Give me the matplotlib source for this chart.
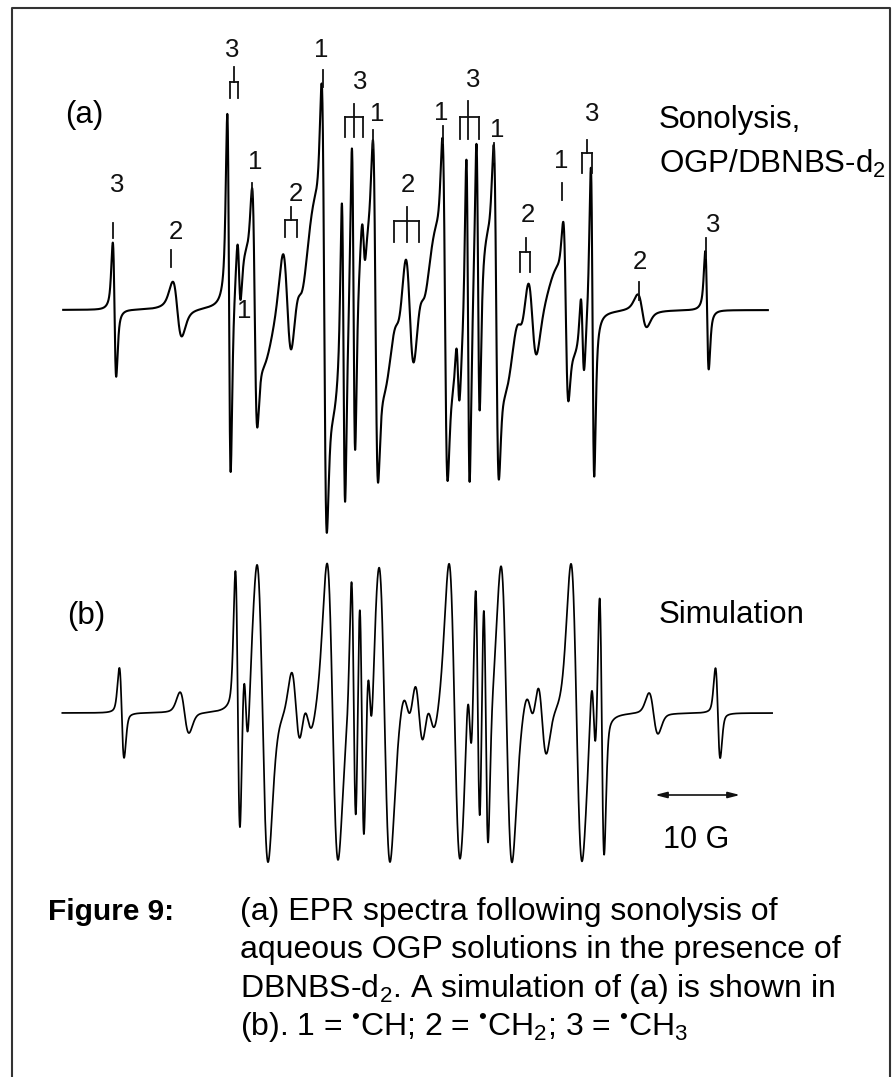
import numpy as np
import matplotlib
matplotlib.use("Agg")
import matplotlib.pyplot as plt
import matplotlib.transforms as mtransforms
from math import comb

plt.rcParams['font.family'] = ['Liberation Sans', 'DejaVu Sans']
plt.rcParams['mathtext.fontset'] = 'custom'
plt.rcParams['mathtext.rm'] = 'Liberation Sans'
plt.rcParams['mathtext.it'] = 'Liberation Sans:italic'
plt.rcParams['mathtext.bf'] = 'Liberation Sans:bold'

# ------------------------------------------------------------------
# DATA.  Fields in gauss, relative to the
# centre of the CH3 adduct pattern in spectrum (a).
# ------------------------------------------------------------------
radicals = ["CH", "CH2", "CH3"]
n_H = [1, 2, 3]                       # equivalent protons on the trapped radical

# (a) experimental spectrum (sonolysis)
center_a = [0.03, -0.03, 0.09]        # G
aN_a = [14.21, 14.41, 14.65]          # nitrogen splitting, G
aH_a = [8.18, 12.94, 13.47]           # proton splitting, G
width_a = [0.55, 1.05, 0.40]          # peak-to-peak width, G
amp_a = [250, 55, 122]                # peak-to-peak height of a weight-1 line (a.u.)
# relative heights of the individual lines (low field -> high field)
line_scale_CH_a = [0.8, 1.5, 1.15, 1.15, 1.12, 0.6]
line_scale_CH2_a = [1.0, 1.05, 0.6, 0.6, 1.2, 0.6, 0.6, 0.8, 0.6]
line_scale_CH3_a = [1.1, 1.0, 0.6, 0.9, 0.9, 0.45, 0.6, 0.95, 0.8, 0.7, 0.86, 0.97]
ch_broad_width_a = 2.4                # broad underlying part of the CH lines, G
ch_broad_amp_a = 130
field_range_a = (-40.8, 42.1)

# (b) simulation
center_b = [1.12, 1.06, 1.15]
aN_b = [14.35, 14.47, 14.59]
aH_b = [8.24, 13.12, 13.65]
width_b = [1.30, 1.05, 0.55]
amp_b = [300, 41, 90]
field_range_b = (-40.9, 42.6)

scale_bar_G = 10

# ------------------------------------------------------------------
W, H = 894, 1077
fig = plt.figure(figsize=(W / 100, H / 100), dpi=100)
fig.patch.set_facecolor('white')
# pixel transform: x right, y down, origin top-left of the figure
pix = mtransforms.Affine2D().scale(1.0 / W, -1.0 / H).translate(0, 1) + fig.transFigure

PX_PER_G = 8.5
X0 = 410.0
xlim = (-X0 / PX_PER_G, (W - X0) / PX_PER_G)


def deriv_line(x, w, eta):
    """first-derivative pseudo-Voigt, peak-to-peak height 1, pp width w"""
    g = w * np.sqrt(3) / 2
    lor = -x / (1 + (x / g) ** 2) ** 2 / ((9 / 8) * g / np.sqrt(3))
    s = w / 2
    gau = -x * np.exp(-x ** 2 / (2 * s ** 2)) / (2 * s * np.exp(-0.5))
    return eta * lor + (1 - eta) * gau


def lines_of(nh, c, aN, aH):
    out = []
    for mN in (-1, 0, 1):
        for k in range(nh + 1):
            mH = k - nh / 2
            out.append((c + mN * aN + mH * aH, comb(nh, k)))
    return sorted(out)


def spectrum(B, centers, aNs, aHs, widths, amps, eta, scales=None, broad=None):
    y = np.zeros_like(B)
    for i, nh in enumerate(n_H):
        lst = lines_of(nh, centers[i], aNs[i], aHs[i])
        for j, (pos, wgt) in enumerate(lst):
            f = wgt * (scales[i][j] if scales is not None else 1.0)
            y += amps[i] * f * deriv_line(B - pos, widths[i], eta)
            if nh == 1 and broad is not None:
                y += broad[1] * f * deriv_line(B - pos, broad[0], 0.3)
    return y


# spectrum (a)
ax_a = fig.add_axes([0, 0, 1, 1])
ax_a.set_xlim(*xlim)
ax_a.set_ylim(310 - H, 310)
ax_a.set_axis_off()
Ba = np.linspace(field_range_a[0], field_range_a[1], 8000)
ya = spectrum(Ba, center_a, aN_a, aH_a, width_a, amp_a, 0.6,
              scales=[line_scale_CH_a, line_scale_CH2_a, line_scale_CH3_a],
              broad=(ch_broad_width_a, ch_broad_amp_a))
ax_a.plot(Ba, ya, color='black', lw=1.5)

# spectrum (b)
ax_b = fig.add_axes([0, 0, 1, 1])
ax_b.set_xlim(*xlim)
ax_b.set_ylim(713 - H, 713)
ax_b.set_axis_off()
Bb = np.linspace(field_range_b[0], field_range_b[1], 8000)
yb = spectrum(Bb, center_b, aN_b, aH_b, width_b, amp_b, 0.3)
ax_b.plot(Bb, yb, color='black', lw=1.25)

# ------------------------------------------------------------------
# annotation (layout in pixel coordinates)
# ------------------------------------------------------------------
ink = '#111111'
# frame
fig.add_artist(plt.Line2D([12, 12, 890, 890], [H, 8, 8, H], transform=pix,
                          color='#333333', lw=1.5))

lab_fs = 18.5
# single ticks: (text, x, tick_top, tick_bottom, text_x, text_baseline)
singles = [("3", 113, 223, 238, 117, 192),
           ("2", 171, 250, 267, 176, 239),
           ("1", 252, 183, 197, 255, 169),
           ("1", 323, 70, 87, 321, 57),
           ("1", 373, 130, 148, 377, 121),
           ("1", 443, 126, 143, 441, 120),
           ("1", 494, 143, 162, 497, 137),
           ("1", 562, 183, 200, 561, 168),
           ("2", 639, 282, 300, 640, 269),
           ("3", 706, 238, 258, 713, 232)]
for t, x, y1, y2, tx, ty in singles:
    fig.add_artist(plt.Line2D([x, x], [y1, y2], transform=pix, color=ink, lw=1.3))
    fig.text(tx, ty, t, transform=pix, ha='center', va='baseline',
             fontsize=lab_fs, color=ink)

# brackets: (text, legs, bar_y, leg_bottom, top_tick_x, top_tick_top, text_x, text_baseline)
brackets = [("3", [230, 238], 82, 98, 234, 67, 232, 57),
            ("2", [285, 297], 220, 237, 291, 207, 296, 201),
            ("3", [345, 354, 363], 117, 137, 354, 104, 360, 89),
            ("2", [394, 407, 419], 221, 242, 407, 207, 408, 192),
            ("3", [460, 468, 479], 117, 139, 468, 101, 473, 87),
            ("2", [520, 530], 252, 272, 526, 238, 528, 222),
            ("3", [582, 592], 153, 173, 587, 140, 592, 121)]
for t, legs, by, lb, tx0, tt, tx, ty in brackets:
    fig.add_artist(plt.Line2D([legs[0], legs[-1]], [by, by], transform=pix, color=ink, lw=1.3))
    for lx in legs:
        fig.add_artist(plt.Line2D([lx, lx], [by, lb], transform=pix, color=ink, lw=1.3))
    fig.add_artist(plt.Line2D([tx0, tx0], [tt, by], transform=pix, color=ink, lw=1.3))
    fig.text(tx, ty, t, transform=pix, ha='center', va='baseline',
             fontsize=lab_fs, color=ink)
fig.text(244, 318, "1", transform=pix, ha='center', va='baseline',
         fontsize=lab_fs, color=ink)

big = 22.5
fig.text(65, 123, "(a)", transform=pix, ha='left', va='baseline', fontsize=big)
fig.text(659, 128, "Sonolysis,", transform=pix, ha='left', va='baseline', fontsize=big)
fig.text(659, 173, "OGP/DBNBS-d$_2$", transform=pix, ha='left', va='baseline', fontsize=big)
fig.text(67, 624, "(b)", transform=pix, ha='left', va='baseline', fontsize=big)
fig.text(659, 623, "Simulation", transform=pix, ha='left', va='baseline', fontsize=big)

# scale bar: 10 G measured along the field axis of (b)
xb0 = 655
ax_b.annotate('', xy=((xb0 - X0) / PX_PER_G + scale_bar_G, 713 - 795),
              xytext=((xb0 - X0) / PX_PER_G, 713 - 795),
              arrowprops=dict(arrowstyle='<|-|>,head_length=0.7,head_width=0.18',
                              color=ink, lw=1.2, shrinkA=0, shrinkB=0))
fig.text(663, 848, "10 G", transform=pix, ha='left', va='baseline', fontsize=22)

# caption
cap = 23
fig.text(48, 920, "Figure 9:", transform=pix, ha='left', va='baseline',
         fontsize=21.5, fontweight='bold')
cap_lines = ["(a) EPR spectra following sonolysis of",
             "aqueous OGP solutions in the presence of",
             "DBNBS-d$_2$. A simulation of (a) is shown in",
             "(b). 1 = $^{•}$CH; 2 = $^{•}$CH$_2$; 3 = $^{•}$CH$_3$"]
for i, s in enumerate(cap_lines):
    fig.text(240, 920 + 38.3 * i, s, transform=pix, ha='left', va='baseline', fontsize=cap)

fig.savefig("out.png", dpi=100, facecolor='white')
